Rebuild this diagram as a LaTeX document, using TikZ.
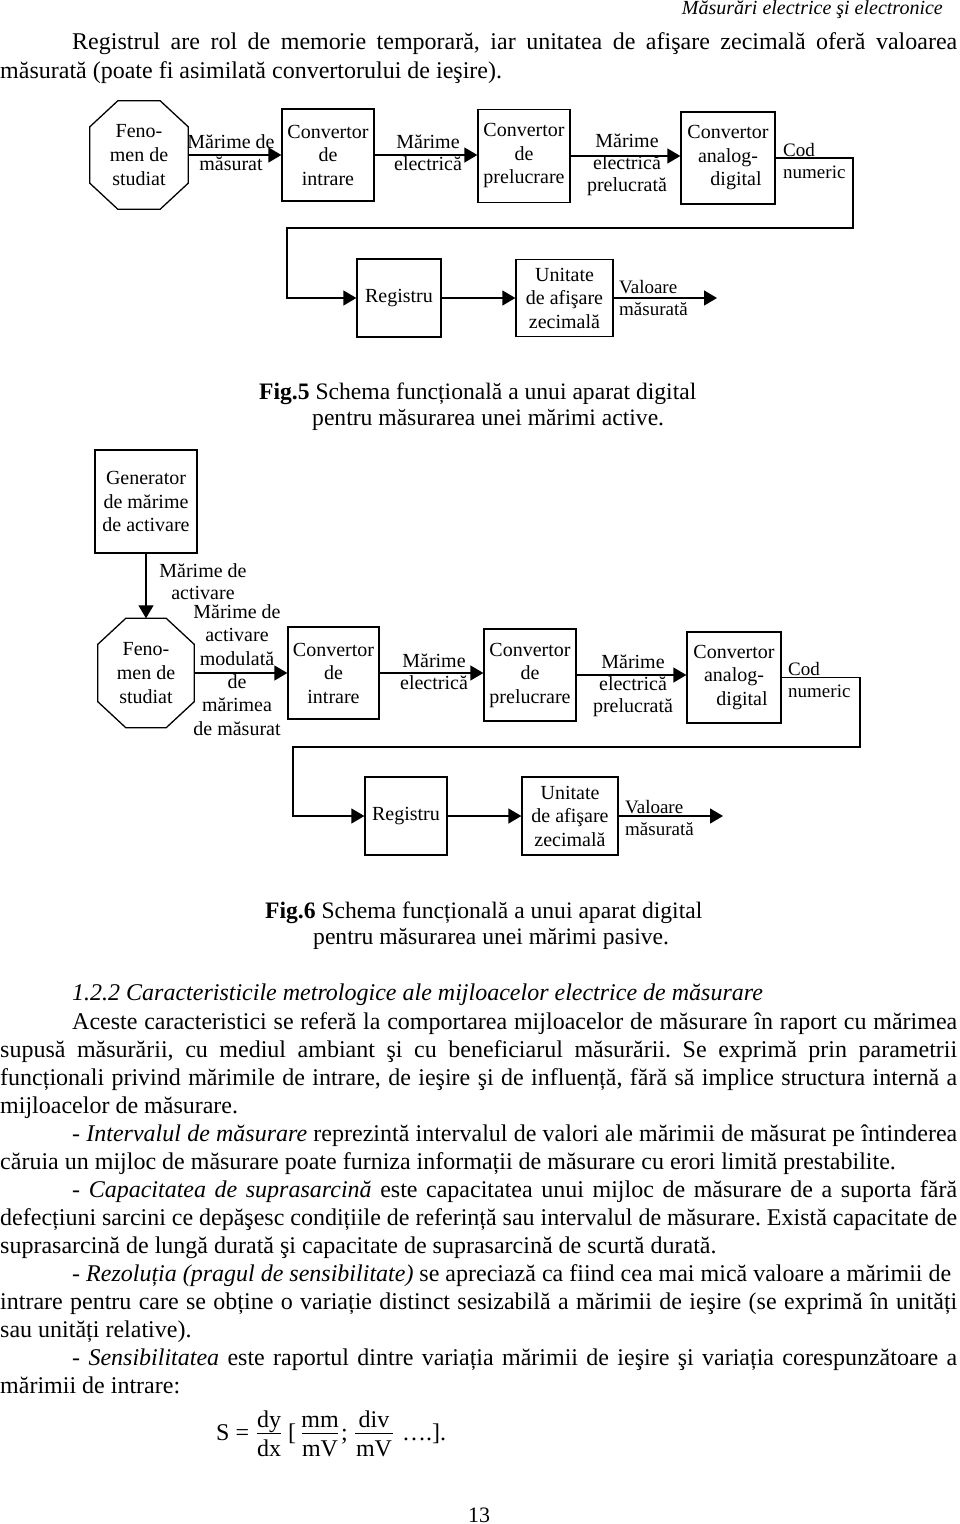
\documentclass[tikz,border=0pt]{standalone}
\usepackage{fontspec}
\setmainfont{Liberation Serif}
\usetikzlibrary{arrows.meta,calc}
\frenchspacing
\newcommand\jline[2]{\makebox[#1][s]{#2}}
\newcommand\octpath[1]{\draw[ln] ($(#1.north west)+(28,0)$) -- ($(#1.north east)+(-28,0)$) -- ($(#1.north east)+(0,26)$) -- ($(#1.south east)+(0,-26)$) -- ($(#1.south east)+(-28,0)$) -- ($(#1.south west)+(28,0)$) -- ($(#1.south west)+(0,-26)$) -- ($(#1.north west)+(0,26)$) -- cycle;}
\begin{document}
\begin{tikzpicture}[x=1pt,y=-1pt,
  ln/.style={line width=1.3pt},
  blk/.style={draw, line width=1.3pt, align=center, inner sep=0pt, font=\fontsize{20}{23.5}\selectfont},
  oct/.style={align=center, inner sep=0pt, font=\fontsize{20}{24}\selectfont},
  lbl/.style={align=center, inner sep=0pt, font=\fontsize{20}{22}\selectfont},
  vlbl/.style={align=left, anchor=west, inner sep=0pt, font=\fontsize{19}{22}\selectfont},
  arr/.style={line width=1.3pt, -{Triangle[length=13pt,width=15pt]}},
  body/.style={anchor=base west, inner sep=0pt, font=\fontsize{24}{28}\selectfont},
  fr/.style={anchor=base, inner sep=0pt, font=\fontsize{24}{28}\selectfont, text height=16.4pt, text depth=5.3pt},
  fbar/.style={line width=1.1pt},
  figcap/.style={anchor=base west, inner sep=0pt, font=\fontsize{23.6}{28}\selectfont}]
\useasboundingbox (0,0) rectangle (960,1524);

% header and first paragraph
\node[anchor=base east, inner sep=0pt, font=\fontsize{20}{24}\selectfont\itshape] (hdr) at (943,14) {Măsurări electrice şi electronice};
\node[body] (p1) at (72,49) {\jline{885pt}{Registrul are rol de memorie temporară, iar unitatea de afişare zecimală oferă valoarea}};
\node[body] (p2) at (0,78) {măsurată (poate fi asimilată convertorului de ieşire).};

% ---------------- Fig. 5 ----------------
\node[oct, minimum width=98pt, minimum height=108pt] (o5) at (139,155) {Feno-\\men de\\studiat};
\octpath{o5}
\node[blk, minimum width=92pt, minimum height=92pt] (ci5) at (328,155) {Convertor\\de\\intrare};
\node[blk, minimum width=92pt, minimum height=93pt] (cp5) at (524,156) {Convertor\\de\\prelucrare};
\node[blk, minimum width=94pt, minimum height=92pt] (ca5) at (728,158) {Convertor\\analog-\\\hspace*{16pt}digital};
\node[blk, minimum width=84pt, minimum height=78pt] (rg5) at (399,298) {Registru};
\node[blk, minimum width=97pt, minimum height=77pt] (ud5) at (564.5,298) {Unitate\\de afişare\\zecimală};
\coordinate (k5a) at (853,228);
\coordinate (k5b) at (287,228);
\coordinate (v5) at (717,298);

\draw[arr] (o5.east) -- (o5.east -| ci5.west);
\draw[arr] (ci5.east) -- (ci5.east -| cp5.west);
\draw[arr] (cp5.east) -- (cp5.east -| ca5.west);
\draw[arr] (ca5.east) -| (k5a) -- (k5b) |- (rg5.west);
\draw[arr] (rg5.east) -- (ud5.west);
\draw[arr] (ud5.east) -- (v5);

\node[lbl] (l5a) at (231,153) {Mărime de\\măsurat};
\node[lbl] (l5b) at (428,153) {Mărime\\electrică};
\node[lbl] (l5c) at (627,165) {Mărime\\electrică\\prelucrată};
\node[vlbl] (l5d) at (783,161) {Cod\\numeric};
\node[vlbl] (l5e) at (619,298) {Valoare\\măsurată};

\node[figcap] (c5a) at (259,399) {\textbf{Fig.5} Schema funcțională a unui aparat digital};
\node[figcap] (c5b) at (312,425) {pentru măsurarea unei mărimi active.};

% ---------------- Fig. 6 ----------------
\node[blk, minimum width=102pt, minimum height=103pt] (gn6) at (146,501.5) {Generator\\de mărime\\de activare};
\node[oct, minimum width=96pt, minimum height=109pt] (o6) at (146,673) {Feno-\\men de\\studiat};
\octpath{o6}
\node[blk, minimum width=91pt, minimum height=92pt] (ci6) at (333.5,673) {Convertor\\de\\intrare};
\node[blk, minimum width=92pt, minimum height=92pt] (cp6) at (530,675) {Convertor\\de\\prelucrare};
\node[blk, minimum width=94pt, minimum height=91pt] (ca6) at (734,677.5) {Convertor\\analog-\\\hspace*{16pt}digital};
\node[blk, minimum width=82pt, minimum height=78pt] (rg6) at (406,816) {Registru};
\node[blk, minimum width=96pt, minimum height=78pt] (ud6) at (570,816) {Unitate\\de afişare\\zecimală};
\coordinate (k6a) at (860,747);
\coordinate (k6b) at (293,747);
\coordinate (v6) at (723,816);

\draw[arr] (gn6.south) -- (o6.north);
\draw[arr] (o6.east) -- (o6.east -| ci6.west);
\draw[arr] (ci6.east) -- (ci6.east -| cp6.west);
\draw[arr] (cp6.east) -- (cp6.east -| ca6.west);
\draw[arr] (ca6.east) -| (k6a) -- (k6b) |- (rg6.west);
\draw[arr] (rg6.east) -- (ud6.west);
\draw[arr] (ud6.east) -- (v6);

\node[lbl] (l6a) at (203,582) {Mărime de\\activare};
\node[lbl, font=\fontsize{20}{23.4}\selectfont] (l6b) at (237,670) {Mărime de\\activare\\modulată\\de\\mărimea\\de măsurat};
\node[lbl] (l6c) at (434,672) {Mărime\\electrică};
\node[lbl] (l6d) at (633,686) {Mărime\\electrică\\prelucrată};
\node[vlbl] (l6e) at (788,680) {Cod\\numeric};
\node[vlbl] (l6f) at (625,818) {Valoare\\măsurată};

\node[figcap] (c6a) at (265,918) {\textbf{Fig.6} Schema funcțională a unui aparat digital};
\node[figcap] (c6b) at (313,944) {pentru măsurarea unei mărimi pasive.};

% ---------------- Text ----------------
\node[body] (s1) at (72,1000) {\textit{1.2.2 Caracteristicile metrologice ale mijloacelor electrice de măsurare}};
\node[body] (a1) at (72,1029) {\jline{885pt}{Aceste caracteristici se referă la comportarea mijloacelor de măsurare în raport cu mărimea}};
\node[body] (a2) at (0,1057) {\jline{957pt}{supusă măsurării, cu mediul ambiant şi cu beneficiarul măsurării. Se exprimă prin parametrii}};
\node[body] (a3) at (0,1085) {\jline{957pt}{funcționali privind mărimile de intrare, de ieşire şi de influență, fără să implice structura internă a}};
\node[body] (a4) at (0,1113) {mijloacelor de măsurare.};
\node[body] (b1) at (72,1141) {\jline{885pt}{- \textit{Intervalul de măsurare} reprezintă intervalul de valori ale mărimii de măsurat pe întinderea}};
\node[body] (b2) at (0,1169) {căruia un mijloc de măsurare poate furniza informații de măsurare cu erori limită prestabilite.};
\node[body] (c1) at (72,1197) {\jline{885pt}{- \textit{Capacitatea de suprasarcină} este capacitatea unui mijloc de măsurare de a suporta fără}};
\node[body] (c2) at (0,1225) {\jline{957pt}{defecțiuni sarcini ce depăşesc condițiile de referință sau intervalul de măsurare. Există capacitate de}};
\node[body] (c3) at (0,1253) {suprasarcină de lungă durată şi capacitate de suprasarcină de scurtă durată.};
\node[body] (d1) at (72,1281) {- \textit{Rezoluția (pragul de sensibilitate)} se apreciază ca fiind cea mai mică valoare a mărimii de};
\node[body] (d2) at (0,1309) {\jline{957pt}{intrare pentru care se obține o variație distinct sesizabilă a mărimii de ieşire (se exprimă în unități}};
\node[body] (d3) at (0,1337) {sau unități relative).};
\node[body] (e1) at (72,1365) {\jline{885pt}{- \textit{Sensibilitatea} este raportul dintre variația mărimii de ieşire şi variația corespunzătoare a}};
\node[body] (e2) at (0,1393) {mărimii de intrare:};

% ---------------- Formula ----------------
\node[body] (eqS) at (216,1440) {S =};
\node[fr] (fn1) at (269,1427) {dy};
\node[fr] (fd1) at (269,1456) {dx};
\draw[fbar] ([yshift=5.5pt]fd1.north west) -- ([yshift=5.5pt]fd1.north east);
\node[body] (eqb) at (288,1440) {[};
\node[fr] (fn2) at (320,1427) {mm};
\node[fr] (fd2) at (320,1456) {mV};
\draw[fbar] ([yshift=5.5pt]fd2.north west) -- ([yshift=5.5pt]fd2.north east);
\node[body] (eqc) at (341,1440) {;};
\node[fr] (fn3) at (374,1427) {div};
\node[fr] (fd3) at (374,1456) {mV};
\draw[fbar] ([yshift=5.5pt,xshift=-1pt]fd3.north west) -- ([yshift=5.5pt,xshift=1pt]fd3.north east);
\node[body] (eqt) at (402,1440) {….].};

\node[anchor=base, inner sep=0pt, font=\fontsize{22}{26}\selectfont] (pg) at (479,1522) {13};
\end{tikzpicture}
\end{document}
